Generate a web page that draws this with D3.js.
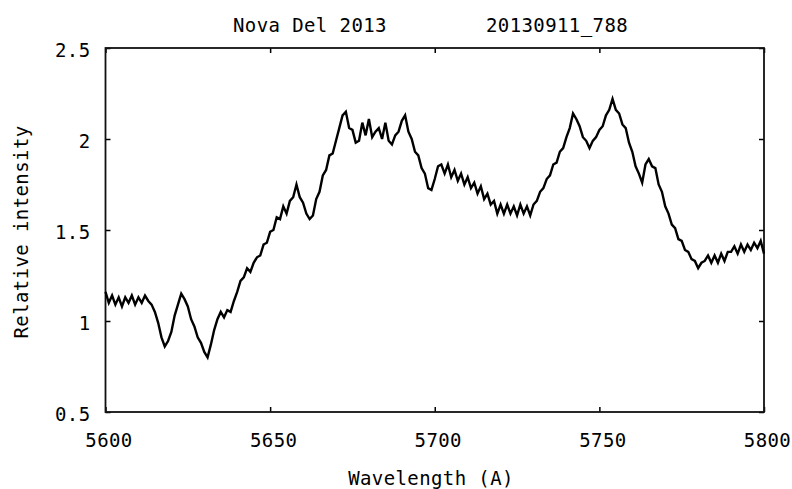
<!DOCTYPE html>
<html>
<head>
<meta charset="utf-8">
<script src="https://cdn.jsdelivr.net/npm/d3@7"></script>
<style>
  body { margin: 0; background: #fff; }
  text { font-family: "DejaVu Sans Mono", monospace; font-size: 19px; fill: #000; letter-spacing: 0.4px; }
</style>
</head>
<body>
<div id="container"></div>
<script>
var WIDTH = 792,
	HEIGHT = 489,
	LEFT = 105.5,
	RIGHT = 764,
	TOP = 48,
	BOTTOM = 412;

// spectrum, one sample per angstrom from 5600 to 5800
var wavelengths = d3.range(5600, 5801, 1);
var intensity = [
	1.16, 1.10, 1.14, 1.09, 1.13, 1.08, 1.13, 1.10, 1.14, 1.09,
	1.13, 1.10, 1.14, 1.11, 1.09,
	1.05, 0.99, 0.91, 0.86, 0.89, 0.94, 1.03, 1.09, 1.15, 1.12,
	1.08, 1.01, 0.97, 0.91, 0.88, 0.83, 0.80, 0.87, 0.95, 1.01,
	1.05, 1.02, 1.06, 1.05, 1.11,
	1.16, 1.22, 1.24, 1.29, 1.27, 1.32, 1.35, 1.36, 1.42, 1.43,
	1.49, 1.50, 1.57, 1.56, 1.63, 1.59, 1.66, 1.68, 1.75, 1.68,
	1.65, 1.59, 1.56, 1.58, 1.67, 1.71, 1.80, 1.83, 1.91, 1.92,
	1.99, 2.06, 2.13, 2.15, 2.06, 2.05, 1.98, 1.99, 2.09, 2.02,
	2.11, 2.01, 2.04, 2.06, 2.00, 2.09, 1.99, 1.97, 2.02, 2.04,
	2.10, 2.13, 2.04, 2.00, 1.93, 1.91, 1.84, 1.81, 1.73, 1.72,
	1.78, 1.85, 1.86, 1.81, 1.86, 1.79, 1.83, 1.77, 1.81, 1.75,
	1.79, 1.73, 1.76, 1.70, 1.74, 1.67, 1.70, 1.64, 1.66, 1.59,
	1.64, 1.59, 1.64, 1.59, 1.63, 1.58, 1.64, 1.59, 1.63, 1.58,
	1.64, 1.66, 1.71, 1.73, 1.78, 1.80, 1.86, 1.87, 1.93, 1.95,
	2.01, 2.06, 2.14, 2.11, 2.07, 2.01, 1.99, 1.95, 1.99, 2.01,
	2.05, 2.07, 2.13, 2.16, 2.22, 2.16, 2.14, 2.08, 2.06, 1.98,
	1.93, 1.85, 1.81, 1.76, 1.86, 1.89, 1.85, 1.84, 1.75, 1.71,
	1.63, 1.59, 1.53, 1.51, 1.45, 1.44, 1.39, 1.38, 1.34, 1.33,
	1.29, 1.32, 1.33, 1.36, 1.32, 1.36, 1.32, 1.37, 1.33, 1.38,
	1.38, 1.41, 1.37, 1.42, 1.38, 1.42, 1.39, 1.43, 1.40, 1.44,
	1.37
];

var xTicks = [5600, 5650, 5700, 5750, 5800];
var yTicks = [0.5, 1, 1.5, 2, 2.5];
var titleLeft = "Nova Del 2013";
var titleRight = "20130911_788";

var xScale = d3.scaleLinear().domain([5600, 5800]).range([LEFT, RIGHT]);
var yScale = d3.scaleLinear().domain([0.5, 2.5]).range([BOTTOM, TOP]);

var svg = d3.select('#container')
	.append('svg')
	.attr('width', WIDTH)
	.attr('height', HEIGHT);

// axes, ticks pointing inward, mirrored on top and right
svg.append('g')
	.attr('transform', 'translate(0,' + BOTTOM + ')')
	.call(d3.axisBottom(xScale).tickValues(xTicks).tickFormat(d3.format('d'))
		.tickSizeInner(-5).tickSizeOuter(0).tickPadding(22))
	.call(function(g) {
		g.select('.domain').remove();
		g.selectAll('text').attr('dx', 3).attr('font-size', null).attr('font-family', null);
	});
svg.append('g')
	.attr('transform', 'translate(0,' + TOP + ')')
	.call(d3.axisTop(xScale).tickValues(xTicks).tickSizeInner(-5).tickSizeOuter(0).tickFormat(''))
	.call(function(g) { g.select('.domain').remove(); });
svg.append('g')
	.attr('transform', 'translate(' + LEFT + ',0)')
	.call(d3.axisLeft(yScale).tickValues(yTicks).tickFormat(function(d) { return String(d); })
		.tickSizeInner(-5).tickSizeOuter(0).tickPadding(15))
	.call(function(g) {
		g.select('.domain').remove();
		g.selectAll('text').attr('dy', '0.45em').attr('font-size', null).attr('font-family', null);
	});
svg.append('g')
	.attr('transform', 'translate(' + RIGHT + ',0)')
	.call(d3.axisRight(yScale).tickValues(yTicks).tickSizeInner(-5).tickSizeOuter(0).tickFormat(''))
	.call(function(g) { g.select('.domain').remove(); });

svg.selectAll('.tick line').attr('stroke', '#000').attr('stroke-width', 1.5);

svg.append('rect')
	.attr('x', LEFT)
	.attr('y', TOP)
	.attr('width', RIGHT - LEFT)
	.attr('height', BOTTOM - TOP)
	.attr('fill', 'none')
	.attr('stroke', '#111')
	.attr('stroke-width', 1.8);

var line = d3.line()
	.x(function(d, i) { return xScale(wavelengths[i]); })
	.y(function(d) { return yScale(d); });

svg.append('path')
	.datum(intensity)
	.attr('d', line)
	.attr('fill', 'none')
	.attr('stroke', '#000')
	.attr('stroke-width', 2.4)
	.attr('stroke-linejoin', 'miter');

// titles and labels
svg.append('text')
	.attr('x', 233)
	.attr('y', 32)
	.text(titleLeft);
svg.append('text')
	.attr('x', 486)
	.attr('y', 32)
	.text(titleRight);
svg.append('text')
	.attr('x', 431)
	.attr('y', 485)
	.attr('text-anchor', 'middle')
	.text('Wavelength (A)');
svg.append('text')
	.attr('transform', 'translate(28,232) rotate(-90)')
	.attr('text-anchor', 'middle')
	.text('Relative intensity');
</script>
</body>
</html>
